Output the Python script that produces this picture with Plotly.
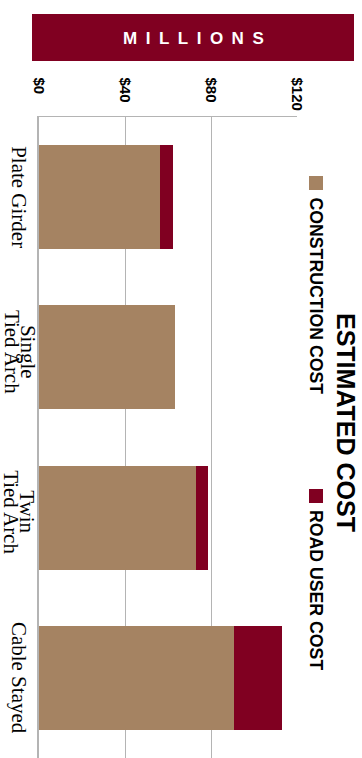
import plotly.graph_objects as go

# ---- data ----
categories = ["Plate Girder", "Single Tied Arch", "Twin Tied Arch", "Cable Stayed"]
category_lines = [["Plate Girder"], ["Single", "Tied Arch"], ["Twin", "Tied Arch"], ["Cable Stayed"]]
construction_cost = [56.3, 63.3, 73.0, 90.7]
road_user_cost = [6.0, 0.0, 5.6, 22.3]
tick_values = [0, 40, 80, 120]
tick_labels = ["$0", "$40", "$80", "$120"]
series_names = ["CONSTRUCTION COST", "ROAD USER COST"]
title_text = "ESTIMATED COST"
band_text = "MILLIONS"

TAN = "#A58362"
RED = "#800021"
GRID = "#b4b4b4"

W, H = 362, 758
L, R, T, B = 39, 65, 117, 0
PW, PH = W - L - R, H - T - B


def px(xp):
    return (xp - L) / PW


def py(yp):
    return 1 - (yp - T) / PH


fig = go.Figure()
fig.add_trace(go.Bar(y=categories, x=construction_cost, orientation="h",
                     name=series_names[0], marker=dict(color=TAN, line=dict(width=0))))
fig.add_trace(go.Bar(y=categories, x=road_user_cost, orientation="h",
                     name=series_names[1], marker=dict(color=RED, line=dict(width=0))))

annotations = []
shapes = []

# axis tick labels (rotated, top-aligned)
for v, lab in zip(tick_values, tick_labels):
    annotations.append(dict(x=v, xref="x", y=py(76), yref="paper", text="<b>%s</b>" % lab, textangle=90,
                            xanchor="center", yanchor="top", showarrow=False,
                            font=dict(family="Liberation Sans, Arial", size=15, color="#000"),
                            borderpad=0))

# category labels (rotated)
for cat, lines in zip(categories, category_lines):
    if len(lines) == 1:
        offs = [-20]
        ysh = 0
    else:
        offs = [-11.5, -27.5]
        ysh = 6
    for line, o in zip(lines, offs):
        annotations.append(dict(x=0, xref="paper", y=cat, yref="y", text=line, textangle=90,
                                xanchor="center", yanchor="middle", xshift=o, yshift=ysh,
                                showarrow=False, borderpad=0,
                                font=dict(family="Liberation Serif, Times New Roman", size=21, color="#000")))

# title
annotations.append(dict(x=px(346), xref="paper", y=py(422), yref="paper", text="<b>%s</b>" % title_text,
                        textangle=90, xanchor="center", yanchor="middle", showarrow=False, borderpad=0,
                        font=dict(family="Liberation Sans, Arial", size=25, color="#000")))

# legend (rotated)
legend_items = [(series_names[0], TAN, 176), (series_names[1], RED, 489)]
for name, col, ytop in legend_items:
    shapes.append(dict(type="rect", xref="paper", yref="paper", x0=px(309), x1=px(323),
                       y0=py(ytop + 14), y1=py(ytop), fillcolor=col, line=dict(width=0)))
    annotations.append(dict(x=px(316), xref="paper", y=py(ytop + 20), yref="paper", text="<b>%s</b>" % name,
                            textangle=90, xanchor="center", yanchor="top", showarrow=False, borderpad=0,
                            font=dict(family="Liberation Sans, Arial", size=17.7, color="#000")))

# MILLIONS band
shapes.append(dict(type="rect", xref="paper", yref="paper", x0=px(32), x1=px(354),
                   y0=py(61), y1=py(14), fillcolor=RED, line=dict(width=0)))
annotations.append(dict(x=px(193), xref="paper", y=py(38), yref="paper",
                        text="<b>" + "\u2002".join(list(band_text)) + "</b>",
                        xanchor="center", yanchor="middle", showarrow=False,
                        font=dict(family="Liberation Sans, Arial", size=17, color="#fff")))

fig.update_layout(
    width=W, height=H,
    margin=dict(l=L, r=R, t=T, b=B, pad=0),
    barmode="stack", bargap=0.35,
    showlegend=False,
    plot_bgcolor="#fff", paper_bgcolor="#fff",
    annotations=annotations, shapes=shapes,
    xaxis=dict(range=[0, 120], side="top", tickvals=tick_values, showticklabels=False,
               showgrid=True, gridcolor=GRID, gridwidth=1, zeroline=False,
               showline=True, linecolor=GRID, linewidth=1, ticks=""),
    yaxis=dict(autorange="reversed", showticklabels=False, showgrid=False, zeroline=False,
               showline=True, linecolor=GRID, linewidth=2, ticks=""),
)

fig.write_html("out.html", config={"displayModeBar": False},
               post_script="document.body.style.margin='0';document.body.style.overflow='hidden';")
